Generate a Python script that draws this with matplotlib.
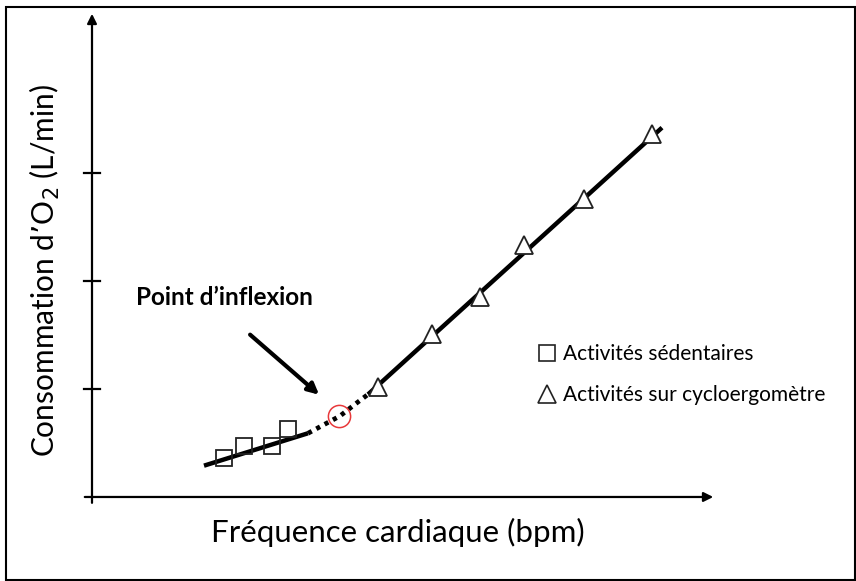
import matplotlib
matplotlib.use("Agg")
import matplotlib.pyplot as plt
from matplotlib.lines import Line2D
from matplotlib.patches import Rectangle

plt.rcParams['font.family'] = ['Lato', 'DejaVu Sans']

# data (heart rate in bpm, VO2 in L/min)
sed_hr = [73, 78, 85, 89]
sed_vo2 = [0.36, 0.47, 0.47, 0.63]
cyc_hr = [111.5, 125, 137, 148, 163, 180]
cyc_vo2 = [1.02, 1.51, 1.85, 2.33, 2.76, 3.36]

low_fit_hr = [68, 94]
low_fit_vo2 = [0.29, 0.59]
trans_hr = [94, 97.5, 102, 105.8, 109]
trans_vo2 = [0.59, 0.66, 0.75, 0.86, 0.95]
high_fit_hr = [109, 182.5]
high_fit_vo2 = [0.95, 3.42]

inflexion = (101.8, 0.75)
y_ticks = [1, 2, 3]

fig = plt.figure(figsize=(8.56, 5.81), dpi=100)
ax = fig.add_axes([0, 0, 1, 1])
ax.set_xlim(17, 231)
ax.set_ylim(-0.778, 4.602)
ax.axis('off')

# frame round the picture
fig.patches.append(Rectangle((6 / 856, 1 / 581), 849 / 856, 573 / 581,
                             transform=fig.transFigure, fill=False,
                             edgecolor='black', linewidth=1.5))

# axes drawn as arrows
ax.annotate('', xy=(196, 0), xytext=(37.5, 0),
            arrowprops=dict(arrowstyle='-|>', color='black', lw=1.6, mutation_scale=14))
ax.annotate('', xy=(40, 4.5), xytext=(40, -0.08),
            arrowprops=dict(arrowstyle='-|>', color='black', lw=1.6, mutation_scale=14))
for t in y_ticks:
    ax.plot([38, 42], [t, t], color='black', lw=1.6)

# fitted lines
ax.plot(low_fit_hr, low_fit_vo2, color='black', lw=3.2, solid_capstyle='butt')
ax.plot(trans_hr, trans_vo2, color='black', lw=3.4, linestyle=(0, (0.9, 1.1)))
ax.plot(high_fit_hr, high_fit_vo2, color='black', lw=3.2, solid_capstyle='butt')

# data points
ax.plot(sed_hr, sed_vo2, linestyle='none', marker='s', markersize=11.5,
        markerfacecolor='none', markeredgecolor='#222222', markeredgewidth=1.3)
ax.plot(cyc_hr, cyc_vo2, linestyle='none', marker='^', markersize=13,
        markerfacecolor='white', markeredgecolor='#222222', markeredgewidth=1.3)

# inflexion point
ax.plot([inflexion[0]], [inflexion[1]], marker='o', markersize=16,
        markerfacecolor='none', markeredgecolor='#e8393b', markeredgewidth=1.1)
ax.annotate('', xy=(97.3, 0.93), xytext=(79, 1.52),
            arrowprops=dict(arrowstyle='-|>', color='black', lw=3, mutation_scale=16))
ax.text(73, 1.85, 'Point d\u2019inflexion', ha='center', va='center',
        fontsize=17.5, fontweight='bold')

# axis titles
fig.text(45 / 856, 1 - 271 / 581, 'Consommation d\u2019O$_2$ (L/min)', rotation=90,
         ha='center', va='center', fontsize=21.5)
fig.text(398 / 856, 1 - 532 / 581, 'Fr\u00e9quence cardiaque (bpm)',
         ha='center', va='center', fontsize=22.5)

# legend
handles = [
    Line2D([], [], linestyle='none', marker='s', markersize=11.5,
           markerfacecolor='white', markeredgecolor='#222222', markeredgewidth=1.2),
    Line2D([], [], linestyle='none', marker='^', markersize=13,
           markerfacecolor='white', markeredgecolor='#222222', markeredgewidth=1.2),
]
ax.legend(handles, ['Activit\u00e9s s\u00e9dentaires', 'Activit\u00e9s sur cycloergom\u00e8tre'],
          loc='upper left', bbox_to_anchor=(538 / 856, 1 - 344 / 581),
          frameon=False, fontsize=15, handlelength=0.85, handletextpad=0.35,
          labelspacing=1.0, borderpad=0, borderaxespad=0)

fig.savefig('out.png', dpi=100)
